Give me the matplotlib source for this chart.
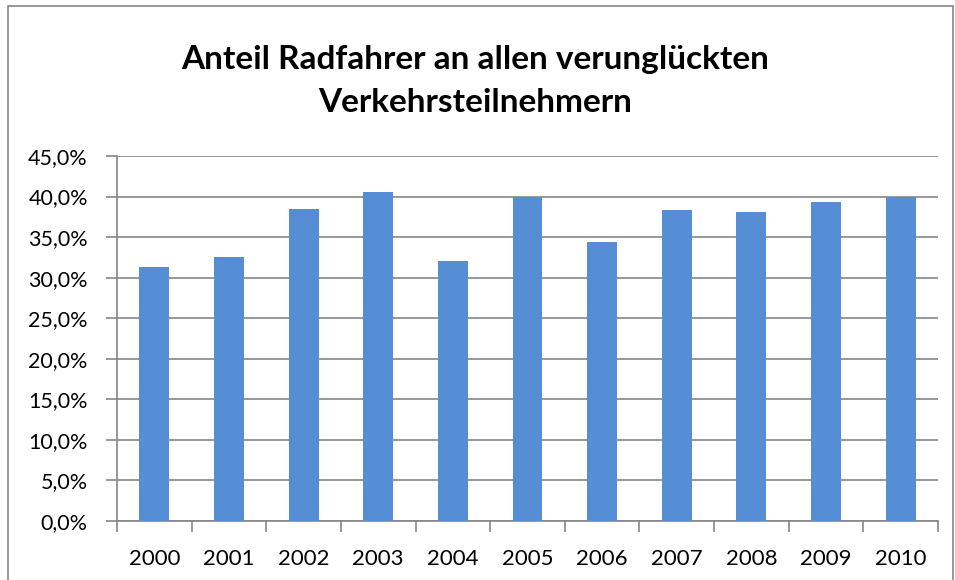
import matplotlib.pyplot as plt
from matplotlib.ticker import FuncFormatter, MultipleLocator, FixedLocator
from matplotlib.patches import Rectangle

years = ['2000', '2001', '2002', '2003', '2004', '2005', '2006', '2007', '2008', '2009', '2010']
anteil = [31.3, 32.6, 38.5, 40.6, 32.0, 40.0, 34.35, 38.4, 38.1, 39.3, 39.9]

plt.rcParams['font.family'] = ['Lato', 'DejaVu Sans']

fig = plt.figure(figsize=(9.55, 5.8), dpi=100)
ax = fig.add_axes([117 / 955, 1 - 521 / 580, (938 - 117) / 955, (521 - 156) / 580])

grid_col = '#868686'
x = range(len(years))
ax.bar(x, anteil, width=0.4, color='#558ed5', zorder=3)

ax.set_xlim(-0.5, len(years) - 0.5)
ax.set_ylim(0, 45)
ax.yaxis.set_major_locator(MultipleLocator(5))
ax.yaxis.set_major_formatter(FuncFormatter(lambda v, p: f"{v:.1f}%".replace('.', ',')))
ax.grid(axis='y', color=grid_col, linewidth=1.2, zorder=0)

ax.set_xticks(list(x))
ax.set_xticklabels(years)
ax.xaxis.set_minor_locator(FixedLocator([i - 0.5 for i in range(len(years) + 1)]))
ax.tick_params(axis='x', which='major', length=0, pad=20, labelsize=16)
ax.tick_params(axis='x', which='minor', length=8, color=grid_col, width=1.2)
ax.tick_params(axis='y', length=8, color=grid_col, width=1.2, labelsize=15.5, pad=13)

for s in ['top', 'right']:
    ax.spines[s].set_visible(False)
for s in ['left', 'bottom']:
    ax.spines[s].set_color(grid_col)
    ax.spines[s].set_linewidth(1.2)

fig.text(0.498, 1 - 81 / 580, 'Anteil Radfahrer an allen verunglückten\nVerkehrsteilnehmern',
         ha='center', va='center', fontsize=24, fontweight='bold', linespacing=1.6)

fig.patches.append(Rectangle((8 / 955, -0.01), (953 - 8) / 955, 1.0, transform=fig.transFigure,
                             fill=False, edgecolor=grid_col, linewidth=1.2))

fig.savefig('out.png', dpi=100)
